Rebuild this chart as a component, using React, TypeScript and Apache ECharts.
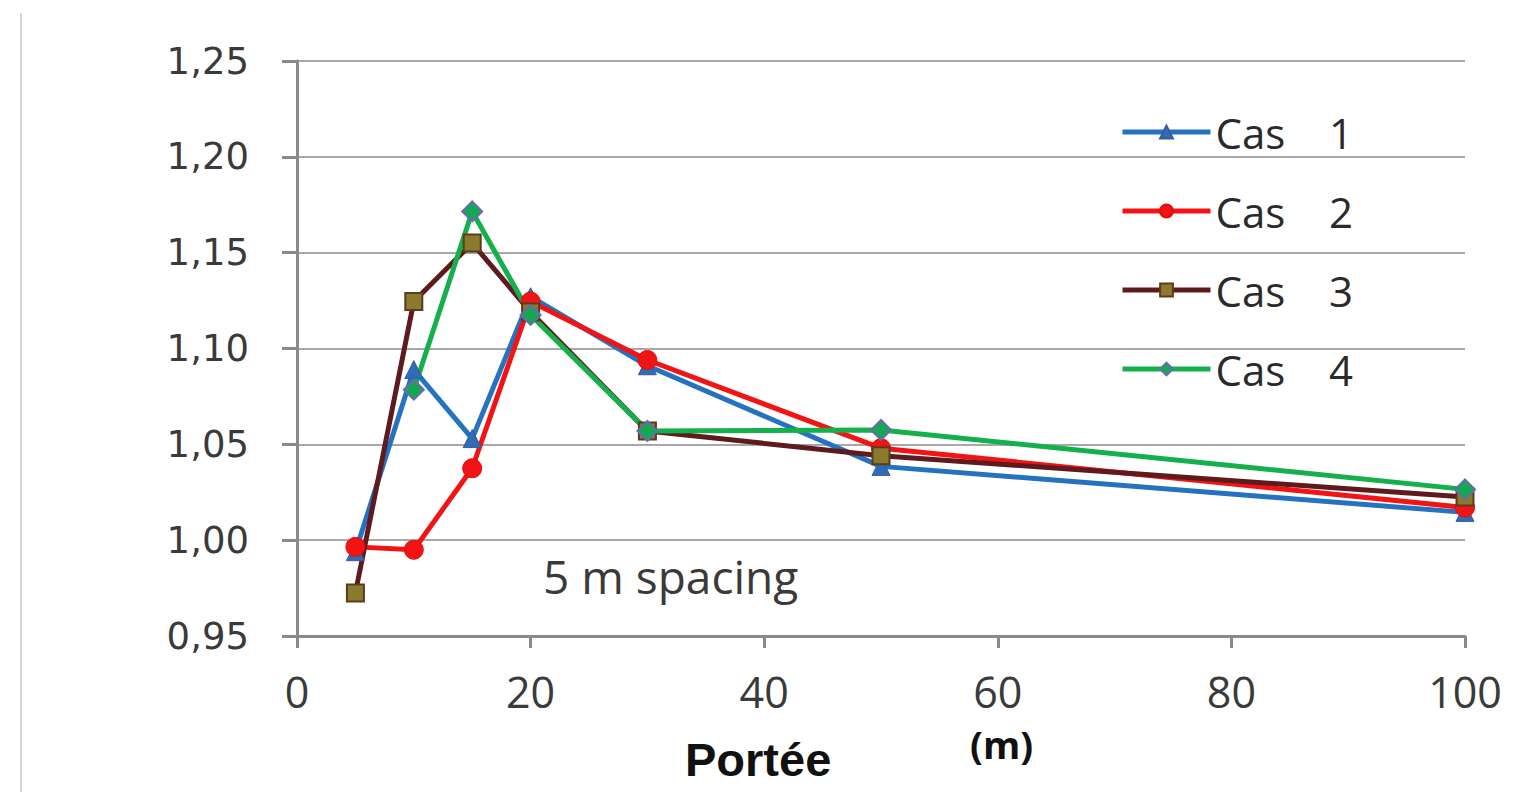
import React, { useEffect, useRef } from "react";
import * as echarts from "echarts";

const spans = [5, 10, 15, 20, 30, 50, 100];
const cas1 = [0.994, 1.089, 1.053, 1.127, 1.091, 1.0385, 1.0145];
const cas2 = [0.9965, 0.995, 1.0375, 1.1245, 1.094, 1.048, 1.017];
const cas3 = [0.9725, 1.1245, 1.155, 1.119, 1.057, 1.044, 1.0225];
const cas4 = [null, 1.0785, 1.1715, 1.1175, 1.057, 1.0575, 1.0265];
const seriesNames = ["Cas\u00a0\u00a0\u00a0\u00a01", "Cas\u00a0\u00a0\u00a0\u00a02", "Cas\u00a0\u00a0\u00a0\u00a03", "Cas\u00a0\u00a0\u00a0\u00a04"];
const xTicks = [0, 20, 40, 60, 80, 100];
const yMin = 0.95;
const yMax = 1.25;
const yStep = 0.05;

const toPairs = (vals: (number | null)[]) =>
  spans.map((x, i) => [x, vals[i] === null ? "-" : vals[i]]);

export default function App() {
  const ref = useRef<HTMLDivElement>(null);
  useEffect(() => {
    if (!ref.current) return;
    const chart = echarts.init(ref.current, null, { renderer: "svg" });
    const lineW = 5;
    chart.setOption({
      animation: false,
      backgroundColor: "#ffffff",
      grid: { left: 297, right: 48, top: 61, bottom: 156, containLabel: false },
      xAxis: {
        type: "value",
        min: xTicks[0],
        max: xTicks[xTicks.length - 1],
        interval: 20,
        axisLine: { show: true, lineStyle: { color: "#8a8a8a", width: 3 } },
        axisTick: { show: true, inside: false, length: 12, lineStyle: { color: "#8a8a8a", width: 3 } },
        splitLine: { show: false },
        axisLabel: {
          margin: 34,
          fontFamily: "Open Sans",
          fontSize: 43,
          color: "#3a3a3a",
        },
      },
      yAxis: {
        type: "value",
        min: yMin,
        max: yMax,
        interval: yStep,
        axisLine: { show: true, lineStyle: { color: "#8a8a8a", width: 3 } },
        axisTick: { show: true, length: 15, lineStyle: { color: "#8a8a8a", width: 3 } },
        splitLine: { show: true, lineStyle: { color: "#a8a8a8", width: 2 } },
        axisLabel: {
          margin: 48,
          fontFamily: "DejaVu Sans",
          fontSize: 37,
          color: "#3a3a3a",
          formatter: (v: number) => v.toFixed(2).replace(".", ","),
        },
      },
      legend: {
        orient: "vertical",
        left: 1120,
        top: 108,
        padding: 0,
        itemWidth: 88,
        itemHeight: 16,
        itemGap: 31,
        lineStyle: { width: 5 },
        textStyle: { fontFamily: "Open Sans", fontSize: 42, lineHeight: 48, color: "#2a2a2a" },
        data: seriesNames,
      },
      series: [
        {
          name: seriesNames[0],
          type: "line",
          data: toPairs(cas1),
          symbol: "triangle",
          symbolSize: 18,
          lineStyle: { color: "#2472c0", width: lineW },
          itemStyle: { color: "#2e6db5", borderColor: "#3a5a9a", borderWidth: 1 },
        },
        {
          name: seriesNames[1],
          type: "line",
          data: toPairs(cas2),
          symbol: "circle",
          symbolSize: 19,
          lineStyle: { color: "#f21414", width: lineW },
          itemStyle: { color: "#f21414", borderColor: "#e01010", borderWidth: 1 },
        },
        {
          name: seriesNames[2],
          type: "line",
          data: toPairs(cas3),
          symbol: "rect",
          symbolSize: 17,
          lineStyle: { color: "#5e1a1c", width: lineW },
          itemStyle: { color: "#8a7a2e", borderColor: "#5e3a1c", borderWidth: 2 },
        },
        {
          name: seriesNames[3],
          type: "line",
          data: toPairs(cas4),
          symbol: "diamond",
          symbolSize: 20,
          connectNulls: false,
          lineStyle: { color: "#14b04c", width: lineW },
          itemStyle: { color: "#14a850", borderColor: "#6a6ab0", borderWidth: 2 },
        },
      ],
      graphic: [
        {
          type: "line",
          shape: { x1: 21, y1: 13, x2: 21, y2: 792 },
          style: { stroke: "#d4d4d4", lineWidth: 2 },
        },
        {
          type: "text",
          left: 543,
          top: 553,
          style: { text: "5 m spacing", fontFamily: "Open Sans", fontSize: 46, fill: "#3a3a3a" },
        },
        {
          type: "text",
          left: 685,
          top: 736,
          style: { text: "Portée", fontFamily: "Liberation Sans", fontWeight: "bold", fontSize: 47, fill: "#111111" },
        },
        {
          type: "text",
          left: 970,
          top: 725,
          style: { text: "(m)", fontFamily: "Open Sans", fontWeight: "bold", fontSize: 38, fill: "#111111" },
        },
      ],
    });
    return () => chart.dispose();
  }, []);
  return (
    <div
      ref={ref}
      style={{ position: "fixed", left: 0, top: 0, width: 1513, height: 792, background: "#fff" }}
    />
  );
}
